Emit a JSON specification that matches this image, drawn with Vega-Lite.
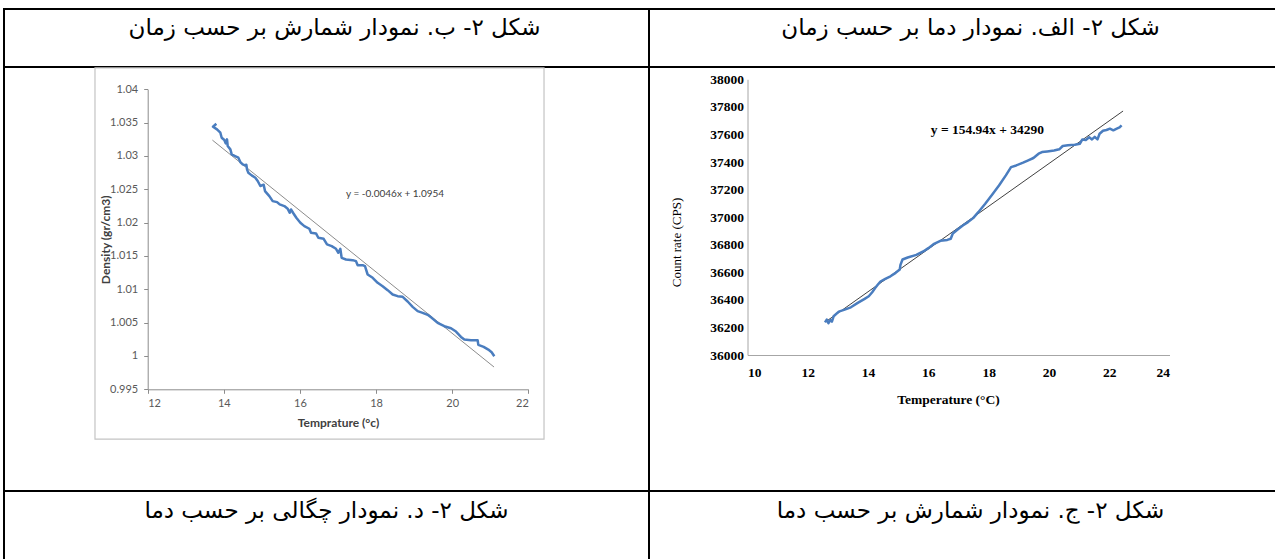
{
  "$schema": "https://vega.github.io/schema/vega-lite/v6.json",
  "padding": {"left": 3, "top": 8, "right": 0, "bottom": 0},
  "background": "white",
  "bounds": "flush",
  "spacing": 0,
  "columns": 2,
  "config": {"view": {"stroke": "#000000", "strokeWidth": 2}, "concat": {"spacing": 0}},
  "datasets": {
    "captionsTop": [{"left": "شکل ۲- ب. نمودار شمارش بر حسب زمان", "right": "شکل ۲- الف. نمودار دما بر حسب زمان"}],
    "captionsBottom": [{"left": "شکل ۲- د. نمودار چگالی بر حسب دما", "right": "شکل ۲- ج. نمودار شمارش بر حسب دما"}],
    "density": [
      {"temp": 13.804, "density": 1.03484}, {"temp": 13.716, "density": 1.03439}, {"temp": 13.821, "density": 1.03399}, {"temp": 13.909, "density": 1.03349}, {"temp": 13.944, "density": 1.03274}, {"temp": 14.014, "density": 1.03239}, {"temp": 14.049, "density": 1.03189}, {"temp": 14.084, "density": 1.03249}, {"temp": 14.102, "density": 1.03149}, {"temp": 14.172, "density": 1.03099}, {"temp": 14.207, "density": 1.03024}, {"temp": 14.294, "density": 1.02999}, {"temp": 14.382, "density": 1.02974}, {"temp": 14.434, "density": 1.02909}, {"temp": 14.496, "density": 1.02874}, {"temp": 14.557, "density": 1.02859}, {"temp": 14.592, "density": 1.02869}, {"temp": 14.609, "density": 1.02799}, {"temp": 14.644, "density": 1.02749}, {"temp": 14.732, "density": 1.02709}, {"temp": 14.828, "density": 1.02674}, {"temp": 14.89, "density": 1.02624}, {"temp": 14.96, "density": 1.02549}, {"temp": 15.047, "density": 1.02569}, {"temp": 15.082, "density": 1.02473}, {"temp": 15.196, "density": 1.02398}, {"temp": 15.284, "density": 1.02323}, {"temp": 15.398, "density": 1.02308}, {"temp": 15.468, "density": 1.02273}, {"temp": 15.59, "density": 1.02248}, {"temp": 15.678, "density": 1.02208}, {"temp": 15.73, "density": 1.02148}, {"temp": 15.765, "density": 1.02198}, {"temp": 15.818, "density": 1.02148}, {"temp": 15.905, "density": 1.02073}, {"temp": 16.011, "density": 1.01998}, {"temp": 16.116, "density": 1.01948}, {"temp": 16.247, "density": 1.01908}, {"temp": 16.291, "density": 1.01848}, {"temp": 16.422, "density": 1.01838}, {"temp": 16.483, "density": 1.01773}, {"temp": 16.623, "density": 1.01758}, {"temp": 16.711, "density": 1.01673}, {"temp": 16.834, "density": 1.01648}, {"temp": 16.947, "density": 1.01608}, {"temp": 17.009, "density": 1.01548}, {"temp": 17.061, "density": 1.01608}, {"temp": 17.096, "density": 1.01472}, {"temp": 17.21, "density": 1.01447}, {"temp": 17.385, "density": 1.01437}, {"temp": 17.473, "density": 1.01422}, {"temp": 17.517, "density": 1.01362}, {"temp": 17.648, "density": 1.01362}, {"temp": 17.709, "density": 1.01347}, {"temp": 17.779, "density": 1.01222}, {"temp": 17.911, "density": 1.01172}, {"temp": 18.042, "density": 1.01097}, {"temp": 18.173, "density": 1.01047}, {"temp": 18.305, "density": 1.00987}, {"temp": 18.436, "density": 1.00922}, {"temp": 18.567, "density": 1.00897}, {"temp": 18.699, "density": 1.00887}, {"temp": 18.83, "density": 1.00817}, {"temp": 18.961, "density": 1.00737}, {"temp": 19.093, "density": 1.00672}, {"temp": 19.224, "density": 1.00647}, {"temp": 19.356, "density": 1.00617}, {"temp": 19.461, "density": 1.00572}, {"temp": 19.618, "density": 1.00496}, {"temp": 19.793, "density": 1.00446}, {"temp": 19.968, "density": 1.00416}, {"temp": 20.1, "density": 1.00366}, {"temp": 20.231, "density": 1.00286}, {"temp": 20.319, "density": 1.00246}, {"temp": 20.494, "density": 1.00236}, {"temp": 20.669, "density": 1.00236}, {"temp": 20.687, "density": 1.00166}, {"temp": 20.827, "density": 1.00136}, {"temp": 20.949, "density": 1.00096}, {"temp": 21.037, "density": 1.00056}, {"temp": 21.107, "density": 0.99996}
    ],
    "densityTrend": [{"temp": 13.7, "density": 1.03238}, {"temp": 21.1, "density": 0.99834}],
    "densityLabel": [{"temp": 17.21, "density": 1.0243, "label": "y = -0.0046x + 1.0954"}],
    "count": [
      {"temp": 12.571, "count": 36237}, {"temp": 12.629, "count": 36257}, {"temp": 12.686, "count": 36230}, {"temp": 12.743, "count": 36254}, {"temp": 12.8, "count": 36242}, {"temp": 12.857, "count": 36281}, {"temp": 13.029, "count": 36315}, {"temp": 13.2, "count": 36327}, {"temp": 13.429, "count": 36346}, {"temp": 13.657, "count": 36378}, {"temp": 13.886, "count": 36407}, {"temp": 14.023, "count": 36426}, {"temp": 14.137, "count": 36455}, {"temp": 14.229, "count": 36484}, {"temp": 14.32, "count": 36509}, {"temp": 14.411, "count": 36533}, {"temp": 14.571, "count": 36552}, {"temp": 14.743, "count": 36571}, {"temp": 14.914, "count": 36596}, {"temp": 15.051, "count": 36620}, {"temp": 15.074, "count": 36654}, {"temp": 15.143, "count": 36693}, {"temp": 15.314, "count": 36707}, {"temp": 15.6, "count": 36726}, {"temp": 15.829, "count": 36751}, {"temp": 16.0, "count": 36775}, {"temp": 16.171, "count": 36804}, {"temp": 16.4, "count": 36828}, {"temp": 16.629, "count": 36835}, {"temp": 16.743, "count": 36843}, {"temp": 16.811, "count": 36881}, {"temp": 16.971, "count": 36910}, {"temp": 17.143, "count": 36939}, {"temp": 17.314, "count": 36964}, {"temp": 17.486, "count": 36993}, {"temp": 17.657, "count": 37036}, {"temp": 17.886, "count": 37097}, {"temp": 18.114, "count": 37162}, {"temp": 18.343, "count": 37230}, {"temp": 18.571, "count": 37303}, {"temp": 18.743, "count": 37363}, {"temp": 18.914, "count": 37375}, {"temp": 19.143, "count": 37395}, {"temp": 19.314, "count": 37412}, {"temp": 19.486, "count": 37429}, {"temp": 19.657, "count": 37460}, {"temp": 19.771, "count": 37472}, {"temp": 19.943, "count": 37477}, {"temp": 20.171, "count": 37484}, {"temp": 20.343, "count": 37492}, {"temp": 20.457, "count": 37516}, {"temp": 20.629, "count": 37521}, {"temp": 20.857, "count": 37525}, {"temp": 21.029, "count": 37533}, {"temp": 21.109, "count": 37564}, {"temp": 21.223, "count": 37559}, {"temp": 21.337, "count": 37579}, {"temp": 21.429, "count": 37564}, {"temp": 21.52, "count": 37583}, {"temp": 21.611, "count": 37564}, {"temp": 21.68, "count": 37605}, {"temp": 21.794, "count": 37627}, {"temp": 21.909, "count": 37632}, {"temp": 22.023, "count": 37642}, {"temp": 22.137, "count": 37630}, {"temp": 22.251, "count": 37642}, {"temp": 22.343, "count": 37651}, {"temp": 22.411, "count": 37666}
    ],
    "countTrend": [{"temp": 12.6, "count": 36242}, {"temp": 22.46, "count": 37770}],
    "countLabel": [{"temp": 16.08, "count": 37632, "label": "y = 154.94x + 34290"}]
  },
  "concat": [
    {"width": 645, "height": 58, "view": {"stroke": "#000000", "strokeWidth": 2}, "data": {"name": "captionsTop"}, "mark": {"type": "text", "font": "DejaVu Sans", "fontSize": 23, "color": "#000000", "dx": 8, "dy": -10, "baseline": "middle"}, "encoding": {"text": {"field": "left"}}},
    {"width": 627, "height": 58, "view": {"stroke": "#000000", "strokeWidth": 2}, "data": {"name": "captionsTop"}, "mark": {"type": "text", "font": "DejaVu Sans", "fontSize": 23, "color": "#000000", "dx": 8, "dy": -10, "baseline": "middle"}, "encoding": {"text": {"field": "right"}}},
    {
      "width": 645,
      "height": 424,
      "encoding": {
        "x": {"field": "temp", "type": "quantitative", "scale": {"domain": [12, 22], "range": [143.7, 524.3], "nice": false, "zero": false},
          "axis": {"values": [12, 14, 16, 18, 20, 22], "offset": -101.7, "grid": false, "domainColor": "#8c8c8c", "tickColor": "#8c8c8c", "tickSize": 4, "labelFont": "Lato", "labelFontSize": 11, "labelColor": "#595959", "labelPadding": 4, "title": "Temprature (°c)", "titleFont": "Lato", "titleFontSize": 12, "titleFontWeight": "bold", "titleColor": "#404040", "titleBaseline": "middle", "titleY": 33}},
        "y": {"field": "density", "type": "quantitative", "scale": {"domain": [0.995, 1.04], "range": [322.3, 22.3], "nice": false, "zero": false},
          "axis": {"values": [0.995, 1, 1.005, 1.01, 1.015, 1.02, 1.025, 1.03, 1.035, 1.04], "format": ".3~f", "offset": -143.7, "grid": false, "domainColor": "#8c8c8c", "tickColor": "#8c8c8c", "tickSize": 4, "labelFont": "Lato", "labelFontSize": 11, "labelColor": "#595959", "labelPadding": 6, "title": "Density (gr/cm3)", "titleFont": "Lato", "titleFontSize": 12, "titleFontWeight": "bold", "titleColor": "#404040", "titleBaseline": "middle", "titleX": -42}}
      },
      "layer": [
        {"data": {"name": "densityLabel"}, "mark": {"type": "rect", "fill": "#ffffff", "fillOpacity": 0, "stroke": "#c4c4c4", "strokeWidth": 1.2, "clip": false},
          "encoding": {"x": {"datum": 10.615}, "x2": {"datum": 22.413}, "y": {"datum": 1.0432}, "y2": {"datum": 0.98754}}},
        {"data": {"name": "densityTrend"}, "mark": {"type": "line", "color": "#8c8c8c", "strokeWidth": 1}, "encoding": {}},
        {"data": {"name": "density"}, "mark": {"type": "line", "color": "#4a7dbf", "strokeWidth": 2.5, "strokeJoin": "round"}, "encoding": {"order": {"value": null}}},
        {"data": {"name": "densityLabel"}, "mark": {"type": "text", "align": "left", "baseline": "middle", "font": "Lato", "fontSize": 10, "color": "#404040"}, "encoding": {"text": {"field": "label"}}}
      ]
    },
    {
      "width": 627,
      "height": 424,
      "encoding": {
        "x": {"field": "temp", "type": "quantitative", "scale": {"domain": [10, 24], "range": [98.5, 520.5], "nice": false, "zero": false},
          "axis": {"values": [10, 12, 14, 16, 18, 20, 22, 24], "offset": -136, "grid": false, "ticks": false, "tickSize": 0, "domainColor": "#a6a6a6", "labelFont": "Liberation Serif", "labelFontSize": 13.5, "labelFontWeight": "bold", "labelColor": "#000000", "labelPadding": 10, "title": "Temperature (°C)", "titleFont": "Liberation Serif", "titleFontSize": 13.5, "titleFontWeight": "bold", "titleColor": "#000000", "titleBaseline": "middle", "titleX": 299, "titleY": 44}},
        "y": {"field": "count", "type": "quantitative", "scale": {"domain": [36000, 38000], "range": [288, 12.3], "nice": false, "zero": false},
          "axis": {"values": [36000, 36200, 36400, 36600, 36800, 37000, 37200, 37400, 37600, 37800, 38000], "format": "d", "offset": -98.5, "grid": false, "ticks": false, "tickSize": 0, "domainColor": "#a6a6a6", "labelFont": "Liberation Serif", "labelFontSize": 13.5, "labelFontWeight": "bold", "labelColor": "#000000", "labelPadding": 4, "title": "Count  rate (CPS)", "titleFont": "Liberation Serif", "titleFontSize": 13, "titleFontWeight": "normal", "titleColor": "#000000", "titleBaseline": "middle", "titleX": -71, "titleY": 175}}
      },
      "layer": [
        {"data": {"name": "countTrend"}, "mark": {"type": "line", "color": "#404040", "strokeWidth": 1}, "encoding": {}},
        {"data": {"name": "count"}, "mark": {"type": "line", "color": "#4a7dbf", "strokeWidth": 2.5, "strokeJoin": "round"}, "encoding": {"order": {"value": null}}},
        {"data": {"name": "countLabel"}, "mark": {"type": "text", "align": "left", "baseline": "middle", "font": "Liberation Serif", "fontSize": 13.5, "fontWeight": "bold", "color": "#000000"}, "encoding": {"text": {"field": "label"}}}
      ]
    },
    {"width": 645, "height": 70, "view": {"stroke": "#000000", "strokeWidth": 2}, "data": {"name": "captionsBottom"}, "mark": {"type": "text", "font": "DejaVu Sans", "fontSize": 23, "color": "#000000", "dx": 0, "dy": -15, "baseline": "middle"}, "encoding": {"text": {"field": "left"}}},
    {"width": 627, "height": 70, "view": {"stroke": "#000000", "strokeWidth": 2}, "data": {"name": "captionsBottom"}, "mark": {"type": "text", "font": "DejaVu Sans", "fontSize": 23, "color": "#000000", "dx": 8, "dy": -15, "baseline": "middle"}, "encoding": {"text": {"field": "right"}}}
  ]
}
